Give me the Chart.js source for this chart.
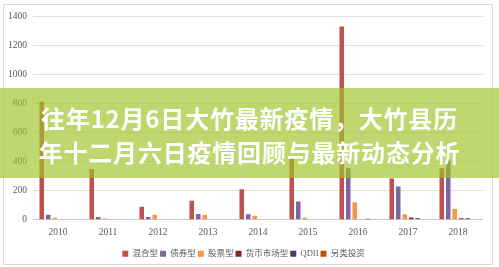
<!DOCTYPE html>
<html>
<head>
<meta charset="utf-8">
<script src="https://cdn.jsdelivr.net/npm/chart.js@4"></script>
<style>
  html, body { margin: 0; padding: 0; background: #fff; }
  body { width: 499px; height: 267px; position: relative; overflow: hidden; }
  #moldura {
    position: absolute; left: 3px; top: 4px; width: 488px; height: 259px;
    border: 1px solid #d9d9d9;
  }
  #area { position: absolute; left: 4px; top: 5px; width: 488px; height: 263px; }
  #banner {
    position: absolute; left: 0; top: 88px; width: 499px; height: 90px;
    background: rgba(158, 196, 39, 0.67);
    display: flex; align-items: center; justify-content: center;
    color: #fff; font-family: "Noto Sans CJK SC", sans-serif; font-weight: bold;
    font-size: 24px; line-height: 34px; text-align: center; letter-spacing: 0.8px;
    padding-top: 4px; box-sizing: border-box;
  }
</style>
</head>
<body>
<div id="moldura"></div>
<div id="area"><canvas id="grafico"></canvas></div>
<div id="banner"><div>往年12月6日大竹最新疫情，大竹县历<br>年十二月六日疫情回顾与最新动态分析</div></div>
<script>
const anos = ['2010', '2011', '2012', '2013', '2014', '2015', '2016', '2017', '2018'];
const nomesSeries = ['混合型', '债券型', '股票型', '货币市场型', 'QDII', '另类投资'];
const hunhe = [813, 350, 90, 130, 210, 435, 1333, 285, 355];
const zhaiquan = [35, 18, 18, 40, 37, 125, 355, 229, 415];
const gupiao = [14, 8, 35, 33, 28, 13, 120, 37, 74];
const huobi = [0, 0, 0, 0, 0, 0, 0, 16, 10];
const qdii = [0, 0, 0, 0, 0, 0, 6, 10, 10];
const linglei = [0, 0, 0, 0, 0, 0, 0, 0, 0];
const cores = ['#C0504D', '#8064A2', '#F79646', '#772C2A', '#4D3B62', '#B65708'];

document.addEventListener('DOMContentLoaded', function () {
    const valores = [hunhe, zhaiquan, gupiao, huobi, qdii, linglei];
    const dados = {
        labels: anos,
        datasets: nomesSeries.map(function (nome, i) {
            return {
                label: nome,
                data: valores[i],
                backgroundColor: cores[i],
                borderWidth: 0,
                categoryPercentage: 0.78,
                barPercentage: 0.7
            };
        })
    };

    const fonteEixo = { family: '"Liberation Serif", serif', size: 9.5 };

    new Chart(document.getElementById('grafico'), {
        type: 'bar',
        data: dados,
        options: {
            responsive: true,
            maintainAspectRatio: false,
            animation: false,
            layout: { padding: { left: 0, right: 9, top: 8, bottom: 0 } },
            plugins: {
                tooltip: { enabled: false },
                legend: {
                    position: 'bottom',
                    labels: {
                        boxWidth: 6,
                        boxHeight: 6,
                        padding: 2,
                        color: '#595959',
                        font: { family: '"Liberation Serif", "Noto Sans CJK SC", serif', size: 8.5 }
                    }
                }
            },
            scales: {
                x: {
                    grid: { display: false, drawTicks: false },
                    border: { display: false },
                    ticks: { color: '#595959', font: fonteEixo, padding: 7, maxRotation: 0 },
                    afterFit: function (s) { s.height = 27.8; }
                },
                y: {
                    min: 0,
                    max: 1400,
                    ticks: {
                        stepSize: 200, color: '#595959', font: fonteEixo, padding: 6,
                        callback: function (v) { return String(v); }
                    },
                    grid: {
                        drawTicks: false,
                        color: function (c) { return c.tick && c.tick.value === 0 ? '#c8c8c8' : '#e0e0e0'; }
                    },
                    border: { display: false },
                    afterFit: function (s) { s.width = 29; }
                }
            }
        }
    });
});
</script>
</body>
</html>
